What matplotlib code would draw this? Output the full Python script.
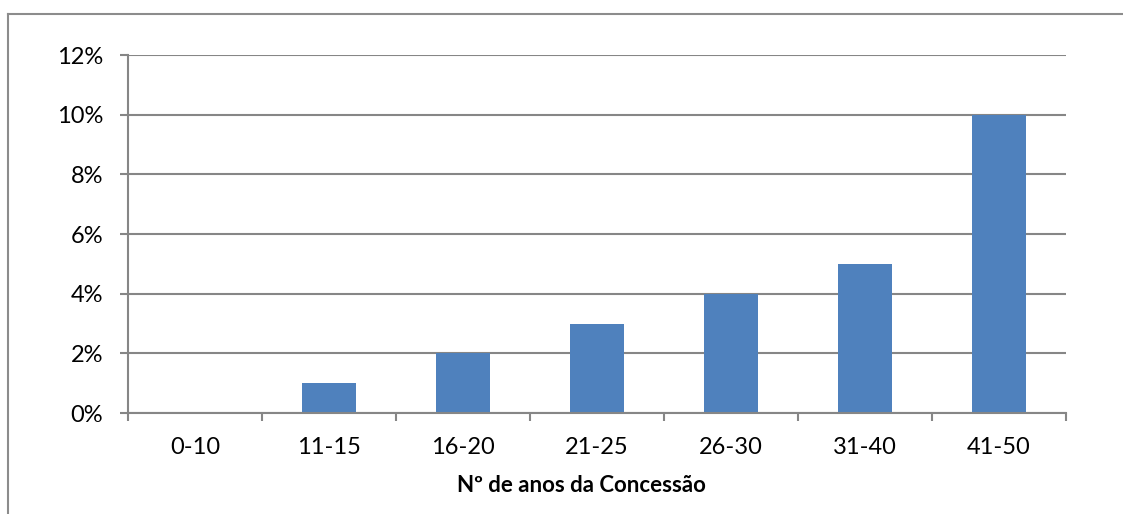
import matplotlib
matplotlib.use("Agg")
import matplotlib.pyplot as plt
from matplotlib.lines import Line2D
from matplotlib.ticker import FuncFormatter, FixedLocator
import numpy as np

categories = ["0-10", "11-15", "16-20", "21-25", "26-30", "31-40", "41-50"]
values = [0, 1, 2, 3, 4, 5, 10]  # percent
xlabel = "Nº de anos da Concessão"

W, H = 1123, 514
plt.rcParams['font.family'] = ['Lato', 'DejaVu Sans']
fig = plt.figure(figsize=(W / 100, H / 100), dpi=100)
fig.patch.set_facecolor("white")

left, right, top, bottom = 128, 1066, 55, 413
ax = fig.add_axes([left / W, 1 - bottom / H, (right - left) / W, (bottom - top) / H])

x = np.arange(len(categories))
ax.bar(x, values, width=0.4, color="#4F81BD", zorder=3)

ax.set_xlim(-0.5, len(categories) - 0.5)
ax.set_ylim(0, 12)
ax.set_yticks(np.arange(0, 13, 2))
ax.yaxis.set_major_formatter(FuncFormatter(lambda v, p: f"{int(v)}%"))
ax.grid(axis="y", color="#868686", lw=1.5, zorder=0)

ax.set_xticks(x)
ax.set_xticklabels(categories)
ax.xaxis.set_minor_locator(FixedLocator(np.arange(-0.5, len(categories), 1.0)))
ax.tick_params(axis="x", which="major", length=0, pad=17, labelsize=17, colors="black")
ax.tick_params(axis="x", which="minor", length=6, width=1.5, color="#868686", direction="out")
ax.tick_params(axis="y", length=6, width=1.5, color="#868686", pad=12, labelsize=17)

for s in ["top", "right"]:
    ax.spines[s].set_visible(False)
for s in ["left", "bottom"]:
    ax.spines[s].set_color("#868686")
    ax.spines[s].set_linewidth(1.5)
ax.spines["bottom"].set_zorder(4)

fig.text(581 / W, 1 - 486 / H, xlabel, ha="center", va="center", fontsize=16, fontweight="bold")

# outer chart frame
fig.add_artist(Line2D([8 / W, 8 / W], [0, 1 - 14 / H], transform=fig.transFigure, color="#8c8c8c", lw=1.5))
fig.add_artist(Line2D([8 / W, 1], [1 - 14 / H, 1 - 14 / H], transform=fig.transFigure, color="#8c8c8c", lw=1.5))

fig.savefig("out.png", dpi=100)
